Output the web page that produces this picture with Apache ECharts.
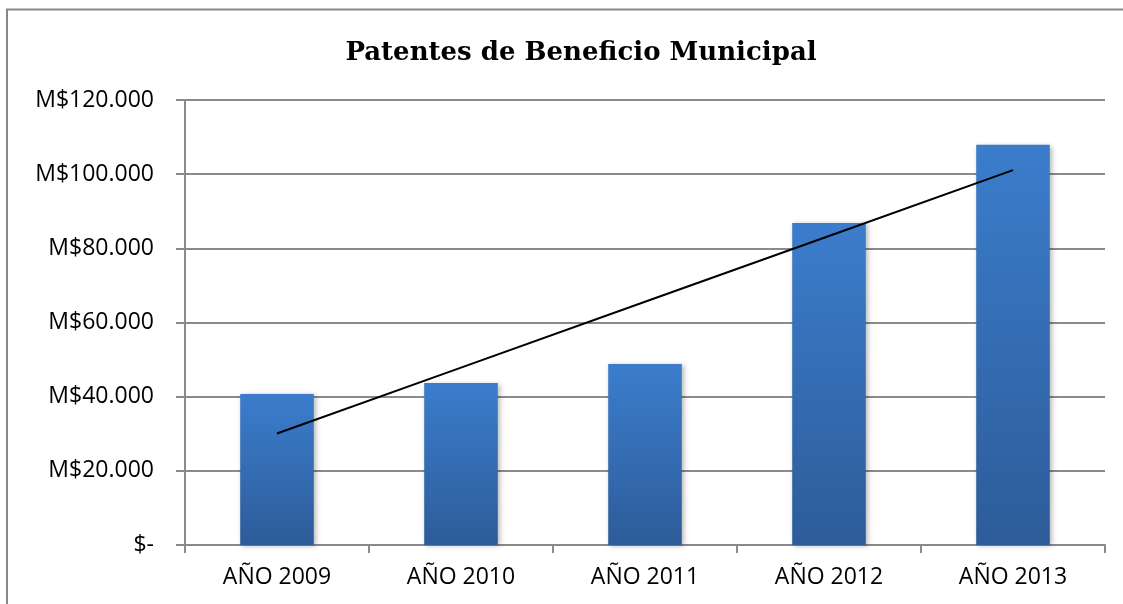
<!DOCTYPE html>
<html>
<head>
<meta charset="utf-8">
<style>
  html, body { margin: 0; padding: 0; background: #fff; }
  #chart { width: 1123px; height: 604px; }
</style>
<script src="https://cdn.jsdelivr.net/npm/echarts@6/dist/echarts.min.js"></script>
</head>
<body>
<div id="chart"></div>
<script>
// Patentes de beneficio municipal, en miles de pesos (M$)
const years = ['AÑO 2009', 'AÑO 2010', 'AÑO 2011', 'AÑO 2012', 'AÑO 2013'];
const patentes = [40700, 43700, 48800, 86800, 107900];
const yTicks = { min: 0, max: 120000, interval: 20000 };

// Linear trend (least squares) over the yearly amounts
function linearTrend(values) {
  const n = values.length;
  const xm = (n - 1) / 2;
  const ym = values.reduce((a, b) => a + b, 0) / n;
  let sxy = 0, sxx = 0;
  values.forEach((v, i) => { sxy += (i - xm) * (v - ym); sxx += (i - xm) * (i - xm); });
  const slope = sxy / sxx;
  return values.map((_, i) => ym + slope * (i - xm));
}
const tendencia = linearTrend(patentes);

function fmtMoney(v) {
  if (v === 0) return '$-';
  return 'M$' + String(v).replace(/\B(?=(\d{3})+(?!\d))/g, '.');
}

const chart = echarts.init(document.getElementById('chart'), null, { renderer: 'canvas' });
const axisFont = { fontFamily: 'Open Sans', fontSize: 23, color: '#000' };
const gridGray = '#8a8a8a';

chart.setOption({
  animation: false,
  backgroundColor: '#fff',
  title: {
    text: 'Patentes de Beneficio Municipal',
    left: 576,
    textAlign: 'center',
    top: 35,
    textStyle: { fontFamily: 'DejaVu Serif', fontWeight: 'bold', fontSize: 26, color: '#000' }
  },
  graphic: [{
    type: 'rect',
    shape: { x: 7, y: 9.5, width: 1300, height: 800 },
    style: { fill: 'none', stroke: '#888', lineWidth: 2 },
    silent: true, z: -1
  }],
  grid: { left: 185, right: 18, top: 100, bottom: 59 },
  xAxis: {
    type: 'category',
    data: years,
    axisLine: { lineStyle: { color: gridGray, width: 2 } },
    axisTick: { show: true, length: 8, lineStyle: { color: gridGray, width: 2 } },
    axisLabel: Object.assign({ margin: 21 }, axisFont)
  },
  yAxis: {
    type: 'value',
    min: yTicks.min, max: yTicks.max, interval: yTicks.interval,
    axisLine: { show: true, lineStyle: { color: gridGray, width: 2 } },
    axisTick: { show: true, length: 9, lineStyle: { color: gridGray, width: 2 } },
    splitLine: { lineStyle: { color: gridGray, width: 2 } },
    axisLabel: Object.assign({ margin: 31, formatter: fmtMoney }, axisFont)
  },
  series: [{
    type: 'bar',
    data: patentes,
    barWidth: '40%',
    itemStyle: {
      color: new echarts.graphic.LinearGradient(0, 0, 0, 1, [
        { offset: 0, color: '#3b7dcc' },
        { offset: 1, color: '#2d5c99' }
      ]),
      shadowColor: 'rgba(0,0,0,0.28)',
      shadowBlur: 5,
      shadowOffsetX: 2,
      shadowOffsetY: 1
    },
    z: 2
  }, {
    type: 'line',
    data: tendencia,
    symbol: 'none',
    lineStyle: { color: '#000', width: 2 },
    z: 3
  }]
});
</script>
</body>
</html>
